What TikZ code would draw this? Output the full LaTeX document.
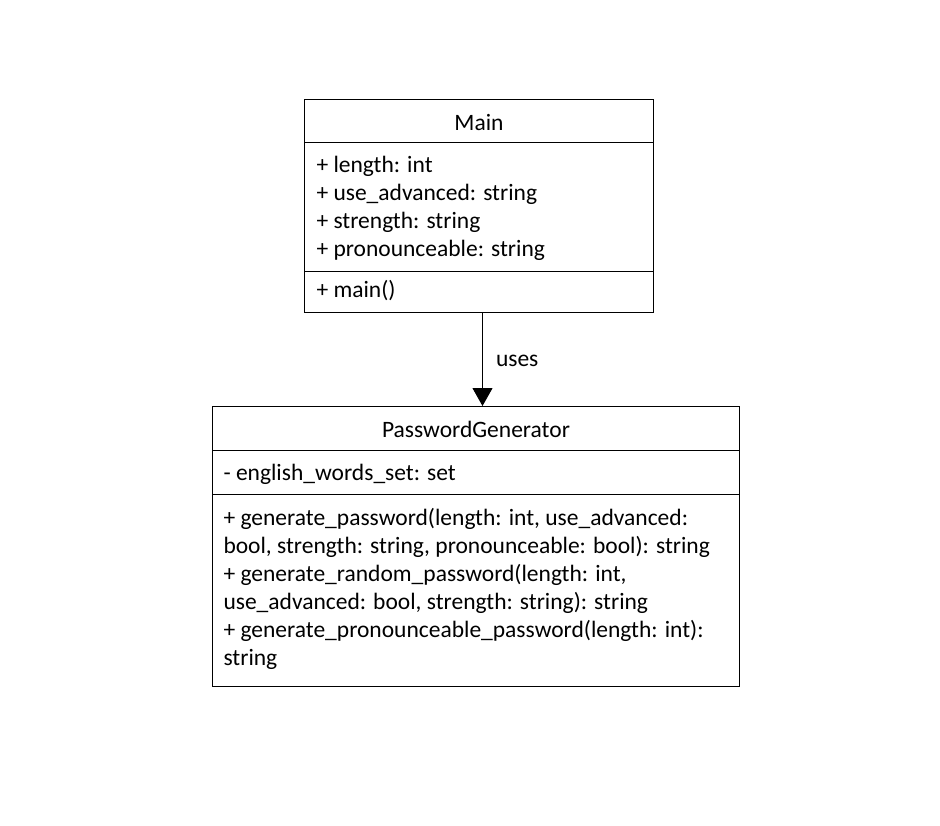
\documentclass[tikz,border=0pt]{standalone}
\usepackage{fontspec}
\setmainfont{Carlito}
\usetikzlibrary{arrows.meta}
\begin{document}
\begin{tikzpicture}
  [x=1pt, y=-1pt, line width=1pt,
  cls/.style={draw, anchor=north west, inner sep=0pt},
  txt/.style={anchor=base west, inner sep=0pt, font=\fontsize{23.5}{28}\selectfont},
  ttl/.style={txt, anchor=base},
  dep/.style={-{Triangle[width=20pt,length=18pt]}}]
  \useasboundingbox[fill=white] (0,0) rectangle (940,826);
  \node[cls, minimum width=349pt, minimum height=213pt] (main) at (304,99) {};
  \node[ttl] (mainname) at (main.north |- 0,131) {Main};
  \draw (main.west |- 0,143) -- (main.east |- 0,143);
  \foreach \t [count=\i] in {{+ length: int}, {+ use\_advanced: string},
      {+ strength: string}, {+ pronounceable: string}}
    \node[txt] (mainattr\i) at (316,145+28*\i) {\t};
  \draw (main.west |- 0,272) -- (main.east |- 0,272);
  \node[txt] (mainop) at (316,298) {+ main()};
  \node[cls, minimum width=527pt, minimum height=280pt] (pg) at (212,406) {};
  \node[ttl] (pgname) at (pg.north |- 0,437) {PasswordGenerator};
  \draw (pg.west |- 0,450) -- (pg.east |- 0,450);
  \node[txt] (pgattr) at (223,480) {- english\_words\_set: set};
  \draw (pg.west |- 0,494) -- (pg.east |- 0,494);
  \foreach \t [count=\i] in {{+ generate\_password(length: int, use\_advanced:},
      {bool, strength: string, pronounceable: bool): string},
      {+ generate\_random\_password(length: int,},
      {use\_advanced: bool, strength: string): string},
      {+ generate\_pronounceable\_password(length: int):},
      {string}}
    \node[txt] (pgop\i) at (223,497+28*\i) {\t};
  \draw[dep] ([xshift=3.5pt]main.south) -- ([xshift=6.5pt]pg.north)
    node[txt, pos=0.58, xshift=13pt] (useslabel) {uses};
\end{tikzpicture}
\end{document}
